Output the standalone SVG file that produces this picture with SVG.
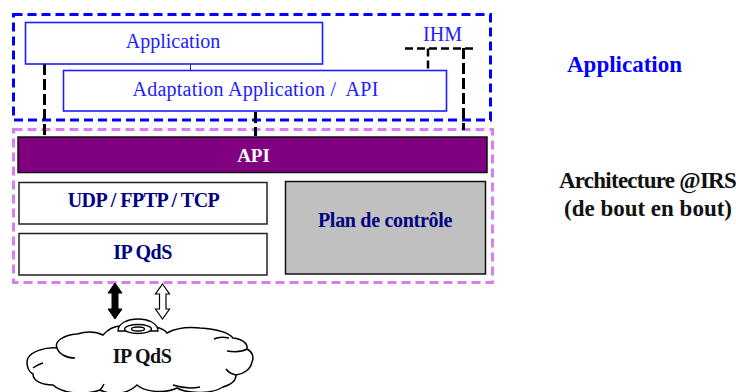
<svg xmlns="http://www.w3.org/2000/svg" width="736" height="392" viewBox="0 0 736 392">
<style>
text{font-family:"Liberation Serif","Times New Roman",serif;text-anchor:middle}
.blue{fill:#2020ff;font-size:20px;white-space:pre}
.navy{fill:#000080;font-size:20px;font-weight:bold;letter-spacing:-.5px}
.box{fill:#fff;stroke:#1c1cff;stroke-width:1.6}
.lay{fill:#fff;stroke:#222;stroke-width:1.5}
.conn{fill:none;stroke:#000;stroke-width:3;stroke-dasharray:11 4}
.cl{fill:none;stroke:#000;stroke-width:1.5}
</style>
<rect width="736" height="392" fill="#fff"/>
<g id="app-zone"><rect x="13.500" y="14.500" width="477" height="105.500" fill="none" stroke="#0000ff" stroke-width="3" stroke-dasharray="9 5"/></g>
<g id="arch-zone"><rect x="13.500" y="129.500" width="479" height="153" fill="none" stroke="#d580f0" stroke-width="3" stroke-dasharray="9 5"/></g>
<g id="connectors">
<path d="M190.500 64V70" fill="none" stroke="#333" stroke-width="1"/>
<path class="conn" d="M44.500 64V136"/>
<path class="conn" d="M255.500 112V136"/>
<path class="conn" d="M463.500 48V130"/>
<path d="M405 48.500H476M428 48.500V70" fill="none" stroke="#000" stroke-width="2.500" stroke-dasharray="8 4"/>
</g>
<g id="application"><rect class="box" x="25.500" y="22.500" width="297" height="41.500"/><text class="blue" x="173" y="48">Application</text></g>
<g id="adaptation"><rect class="box" x="63.500" y="70.500" width="383" height="40.500"/><text class="blue" x="255.500" y="96" style="letter-spacing:.25px">Adaptation Application /  API</text></g>
<g id="ihm"><text class="blue" x="442.500" y="41">IHM</text></g>
<g id="api"><rect x="18" y="137" width="469" height="35.500" fill="#800080" stroke="#111" stroke-width="1.500"/><text x="253.500" y="162" fill="#fff" font-size="19" font-weight="bold">API</text></g>
<g id="transport"><rect class="lay" x="19" y="182.500" width="248" height="41.500"/><text class="navy" x="143.500" y="207">UDP / FPTP / TCP</text></g>
<g id="ipqds"><rect class="lay" x="19" y="233.500" width="248" height="41.500"/><text class="navy" x="142.500" y="259">IP QdS</text></g>
<g id="control"><rect x="285.500" y="181.500" width="200" height="92.500" fill="#c0c0c0" stroke="#111" stroke-width="1.500"/><text class="navy" x="385" y="227" style="letter-spacing:-.3px">Plan de contrôle</text></g>
<g id="label-application"><text x="624.500" y="72" fill="#0000ff" font-size="23" font-weight="bold">Application</text></g>
<g id="label-arch"><text x="647.500" y="188" fill="#111" font-size="23" font-weight="bold" letter-spacing="-.75">Architecture @IRS</text><text x="648" y="216" fill="#111" font-size="23" font-weight="bold">(de bout en bout)</text></g>
<g id="arrows">
<path d="M115 283L122 293H118V309H122L115 319L108 309H112V293H108Z" fill="#000" stroke="#000"/>
<path d="M162.500 284L169.500 294H166V309H169.500L162.500 319L155.500 309H159.500V294H155.500Z" fill="#fff" stroke="#000" stroke-width="1.200"/>
</g>
<g id="cloud">
<path d="M103 335C108 329 114 326 122 326L155 327C160 328 165 330 167 333C178 327 190 327 200 328C215 329 228 332 233 338C242 339 248 343 247 349C253 352 254 358 252 362C251 368 246 373 236 375C236 381 230 385 223 387C214 393 190 395 177 388C165 394 145 392 137 385C128 394 112 396 100 390C82 396 62 393 53 385C42 385 33 381 33 374C27 371 26 362 28 358C31 352 44 347 57 348C54 341 64 335 77 334C88 331 97 332 103 335Z" fill="#fff" stroke="#000" stroke-width="1.500"/>
<path class="cl" d="M57 348C59 354 66 358 75 358M33 368C36 366 39 364 43 363M214 339C218 337 224 337 229 338M247 349C242 352 234 352 227 351M236 375C232 374 228 372 226 369M173 385C182 388 190 389 200 387M100 390C102 388 103 386 104 384"/>
<path d="M118 331C118 323 128 319 138 319C148 319 158 323 158 331Z" fill="#fff" stroke="#000" stroke-width="1.300"/>
<ellipse cx="138" cy="329" rx="13.500" ry="4.500" fill="#fff" stroke="#000" stroke-width="1.300"/>
<ellipse cx="138" cy="329" rx="6.500" ry="2" fill="#fff" stroke="#000" stroke-width="1.300"/>
<text x="142" y="363" fill="#111" font-size="20" font-weight="bold" letter-spacing="-.5">IP QdS</text>
</g>
</svg>
